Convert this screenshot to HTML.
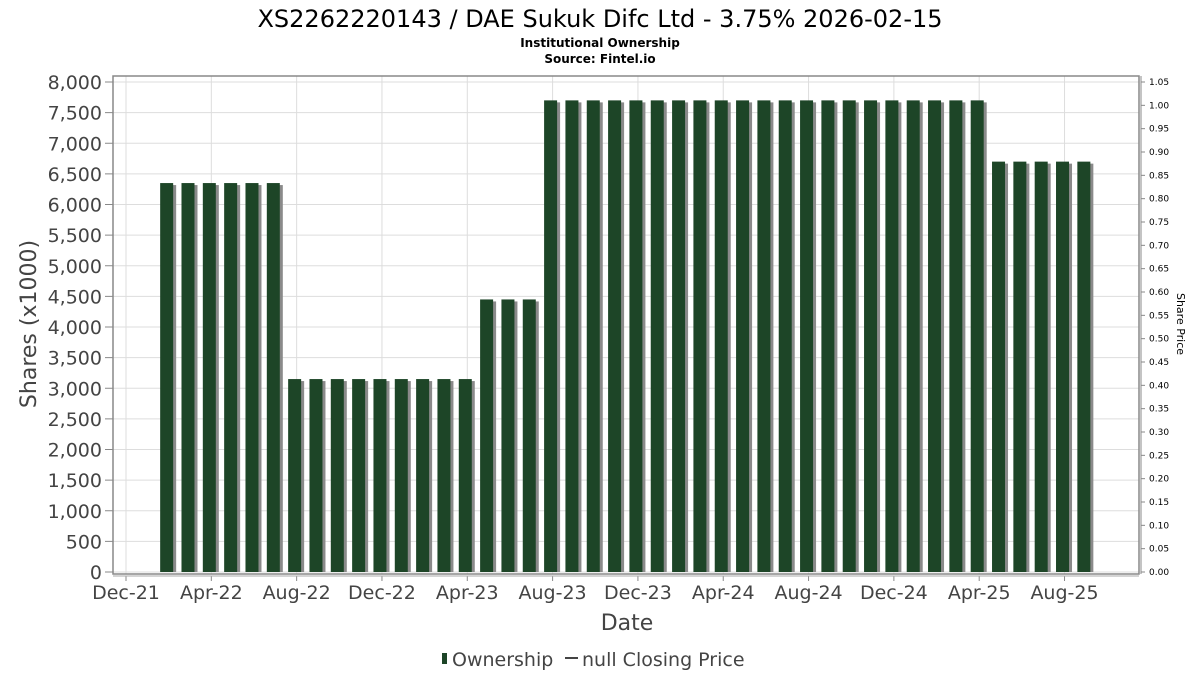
<!DOCTYPE html>
<html><head><meta charset="utf-8"><style>
body{margin:0;background:#fff;}
svg text{font-family:"DejaVu Sans","Liberation Sans",sans-serif;}
</style></head><body>
<svg id="chart" width="1200" height="675" xmlns="http://www.w3.org/2000/svg">
<text x="600" y="27" text-anchor="middle" font-size="24" fill="#000">XS2262220143 / DAE Sukuk Difc Ltd - 3.75% 2026-02-15</text>
<text x="600" y="47" text-anchor="middle" font-size="12" font-weight="bold" fill="#000">Institutional Ownership</text>
<text x="600" y="63" text-anchor="middle" font-size="12" font-weight="bold" fill="#000">Source: Fintel.io</text>
<g id="grid"></g>
<g id="bars"></g>
<g id="axes"></g>
<text x="627" y="630" text-anchor="middle" font-size="22" fill="#444">Date</text>
<text transform="translate(36,324) rotate(-90)" text-anchor="middle" font-size="22" fill="#444">Shares (x1000)</text>
<text transform="translate(1177,324) rotate(90)" text-anchor="middle" font-size="11" fill="#000">Share Price</text>
<g>
<rect x="442" y="653" width="5" height="11" fill="#1d4527"/>
<text x="452" y="666" font-size="19" fill="#444">Ownership</text>
<line x1="565" y1="658" x2="578" y2="658" stroke="#444" stroke-width="2"/>
<text x="582" y="666" font-size="19" fill="#444">null Closing Price</text>
</g>
</svg>
<script>
const monthIndex=[2,3,4,5,6,7,8,9,10,11,12,13,14,15,16,17,18,19,20,21,22,23,24,25,26,27,28,29,30,31,32,33,34,35,36,37,38,39,40,41,42,43,44,45];
const shares=[6350,6350,6350,6350,6350,6350,3150,3150,3150,3150,3150,3150,3150,3150,3150,4450,4450,4450,7700,7700,7700,7700,7700,7700,7700,7700,7700,7700,7700,7700,7700,7700,7700,7700,7700,7700,7700,7700,7700,6700,6700,6700,6700,6700];
const yTicks=[0,500,1000,1500,2000,2500,3000,3500,4000,4500,5000,5500,6000,6500,7000,7500,8000];
const priceTicks=[0,0.05,0.1,0.15,0.2,0.25,0.3,0.35,0.4,0.45,0.5,0.55,0.6,0.65,0.7,0.75,0.8,0.85,0.9,0.95,1.0,1.05];
const xTickLabels=["Dec-21","Apr-22","Aug-22","Dec-22","Apr-23","Aug-23","Dec-23","Apr-24","Aug-24","Dec-24","Apr-25","Aug-25"];
const xTickMonths=[0,4,8,12,16,20,24,28,32,36,40,44];
const NS="http://www.w3.org/2000/svg";
const L=113,R=1139,T=76,B=574;
const x=m=>126+m*21.33;
const y=v=>572-v*(490/8000);
const yp=p=>572-p*(490/1.05*1.0);
function mk(tag,attrs,parent){const e=document.createElementNS(NS,tag);for(const k in attrs)e.setAttribute(k,attrs[k]);parent.appendChild(e);return e;}
const grid=document.getElementById('grid'),bars=document.getElementById('bars'),axes=document.getElementById('axes');
mk('rect',{x:L,y:T,width:R-L,height:B-T,fill:'#fff'},grid);
yTicks.forEach(v=>{
 const l=mk('line',{x1:L,x2:R,y1:y(v),y2:y(v),stroke:'#ddd','stroke-width':1},grid);
 
 
 const t=mk('text',{x:102,y:y(v)+7,'text-anchor':'end','font-size':19,fill:'#444'},axes);
 t.textContent=v.toLocaleString('en-US');
 
 
 mk('line',{x1:105,x2:L,y1:y(v),y2:y(v),stroke:'#888'},axes);
});
xTickMonths.forEach((m,i)=>{
 const l=mk('line',{x1:x(m),x2:x(m),y1:T,y2:B,stroke:'#ddd'},grid);
 
 
 mk('line',{x1:x(m),x2:x(m),y1:B+2,y2:B+7,stroke:'#888'},axes);
 const t=mk('text',{x:x(m),y:599,'text-anchor':'middle','font-size':19,fill:'#444'},axes);
 t.textContent=xTickLabels[i];
 
 
});
priceTicks.forEach(p=>{
 mk('line',{x1:R+2,x2:R+6,y1:yp(p),y2:yp(p),stroke:'#888'},axes);
 const t=mk('text',{x:1149,y:yp(p)+3,'font-size':9,fill:'#000'},axes);
 t.textContent=p.toFixed(2);
 
 
});
shares.forEach((v,i)=>{
 const cx=x(monthIndex[i]);
 mk('rect',{x:cx-5.5,y:y(v)+2,width:13,height:572-y(v)-2,fill:'#8a8a8a'},bars);
 const b=mk('rect',{x:cx-8.5,y:y(v),width:13,height:572-y(v),fill:'#1d4527'},bars);
 
 
});
mk('rect',{x:L,y:T,width:R-L,height:B-T,fill:'none',stroke:'#888','stroke-width':1.5},axes);
mk('line',{x1:R+2,x2:R+2,y1:T,y2:B,stroke:'#888'},axes);
mk('line',{x1:L,x2:R,y1:B+2,y2:B+2,stroke:'#aaa'},axes);
</script>
</body></html>
